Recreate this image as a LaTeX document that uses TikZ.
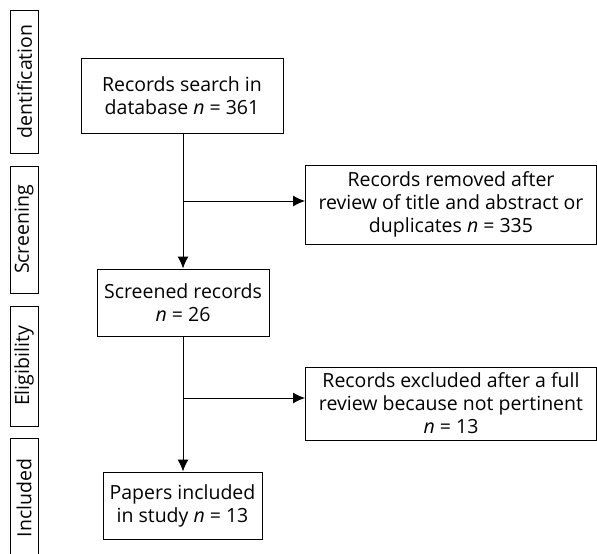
\documentclass[tikz,border=0pt]{standalone}
\usepackage{fontspec}
\setmainfont{Open Sans}
\usetikzlibrary{arrows.meta}
\begin{document}
\begin{tikzpicture}[x=1pt,y=-1pt,
  every node/.style={font=\fontsize{19.5}{23}\selectfont},
  box/.style={draw,line width=1pt,align=center,inner sep=0pt,minimum width=#1},
  phase/.style={draw,line width=1pt,inner sep=0pt,rotate=90,minimum height=28pt,minimum width=#1},
  flow/.style={line width=1pt,-{Latex[length=12pt,width=11pt]}}]
\useasboundingbox (0,0) rectangle (597,554);

% stage labels down the left side
\node[phase=143pt] (id)   at (24.5,81.5) {dentification};
\node[phase=127pt] (scr)  at (24,229.5) {Screening};
\node[phase=120pt] (elig) at (24,366) {Eligibility};
\node[phase=120pt] (incl) at (24,498) {Included};

% main flow
\node[box=202pt,minimum height=75pt] (search) at (182,95.5)
  {Records search in\\database \textit{n} = 361};
\node[box=172pt,minimum height=67pt] (screened) at (183,302.5)
  {Screened records\\\textit{n} = 26};
\node[box=159pt,minimum height=67pt] (papers) at (182.5,505.5)
  {Papers included\\in study \textit{n} = 13};

% exclusions
\node[box=291pt,minimum height=79pt] (removed) at (451,204.5)
  {Records removed after\\review of title and abstract or\\duplicates \textit{n} = 335};
\node[box=291pt,minimum height=73pt] (excluded) at (451,403.5)
  {Records excluded after a full\\review because not pertinent\\\textit{n} = 13};

\coordinate (j1) at (183,201);
\coordinate (j2) at (183,398);

\draw[flow] (search.south -| j1) -- (screened.north -| j1);
\draw[flow] (j1) -- (j1 -| removed.west);
\draw[flow] (screened.south -| j2) -- (papers.north -| j2);
\draw[flow] (j2) -- (j2 -| excluded.west);
\end{tikzpicture}
\end{document}
